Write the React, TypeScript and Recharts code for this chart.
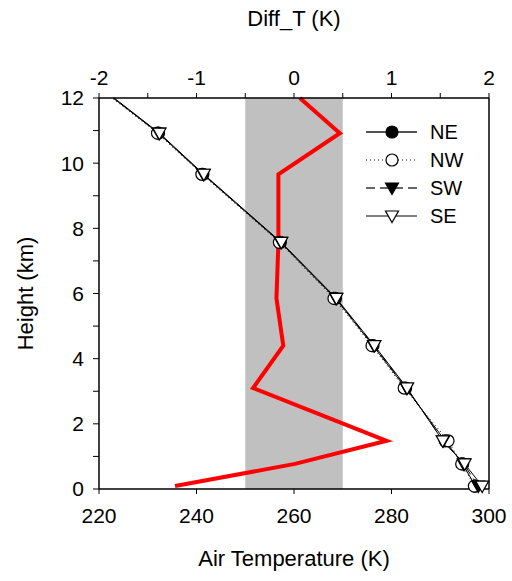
import React from 'react';
import { LineChart, Line, XAxis, YAxis, ReferenceArea, ReferenceLine } from 'recharts';

// heights (km) where the profiles were sampled
const heights = [0.09, 0.77, 1.48, 3.1, 4.4, 5.85, 7.57, 9.66, 10.92, 12];
// air temperature (K) per quadrant
const tempNE = [297.2, 294.6, 291.0, 282.9, 276.2, 268.5, 257.2, 241.3, 232.2, 222.9];
const tempNW = [297.0, 294.4, 291.6, 282.6, 276.0, 268.2, 257.0, 241.1, 232.0, 222.7];
const tempSW = [297.8, 294.8, 290.6, 283.1, 276.4, 268.6, 257.3, 241.4, 232.3, 223.0];
const tempSE = [298.6, 295.0, 290.5, 283.2, 276.5, 268.7, 257.4, 241.5, 232.4, 223.1];
// temperature difference (K), top axis
const diffT = [-1.22, 0.01, 0.95, -0.42, -0.11, -0.18, -0.16, -0.16, 0.47, 0.06];
// the last sample (top of the profile) has no symbol
const hasMarker = [true, true, true, true, true, true, true, true, true, false];

const tempTicks = [220, 240, 260, 280, 300];
const diffTicks = [-2, -1.5, -1, -0.5, 0, 0.5, 1, 1.5, 2];
const heightTicks = [0, 1, 2, 3, 4, 5, 6, 7, 8, 9, 10, 11, 12];

const rows = heights.map((h, i) => ({
    h,
    NE: tempNE[i],
    NW: tempNW[i],
    SW: tempSW[i],
    SE: tempSE[i],
    diff: diffT[i],
}));

type Shape = 'circle' | 'tri';

const series: { key: string; dash?: string; shape: Shape; fill: string; legendStroke: string; legendWidth: number }[] = [
    { key: 'NE', shape: 'circle', fill: '#000', legendStroke: '#555', legendWidth: 2 },
    { key: 'NW', dash: '1 3', shape: 'circle', fill: '#fff', legendStroke: '#000', legendWidth: 1 },
    { key: 'SW', dash: '9 5', shape: 'tri', fill: '#000', legendStroke: '#666', legendWidth: 2 },
    { key: 'SE', shape: 'tri', fill: '#fff', legendStroke: '#000', legendWidth: 1 },
];

const FONT = '"Liberation Sans", Arial, Helvetica, sans-serif';

function marker(shape: Shape, fill: string, cx: number, cy: number, key?: string | number) {
    if (shape === 'circle') {
        return <circle key={key} cx={cx} cy={cy} r={6} fill={fill} stroke="#000" strokeWidth={1.2} />;
    }
    const pts = `${cx - 6.5},${cy - 5} ${cx + 6.5},${cy - 5} ${cx},${cy + 6.5}`;
    return <polygon key={key} points={pts} fill={fill} stroke="#000" strokeWidth={1.2} />;
}

function makeDot(shape: Shape, fill: string) {
    return (props: any) => {
        const { cx, cy, index } = props;
        if (!hasMarker[index] || cx == null || cy == null) return <g key={`d${index}`} />;
        return marker(shape, fill, cx, cy, `d${index}`);
    };
}

const fmtEven = (v: number) => (v % 2 === 0 ? String(v) : '');
const fmtInt = (v: number) => (Number.isInteger(v) ? String(v) : '');

const tickStyle = { fill: '#000', fontSize: 21, fontFamily: FONT };
const axisLine = { stroke: '#000', strokeWidth: 1.5 };

function Legendbox() {
    return (
        <svg width={140} height={120} style={{ position: 'absolute', left: 360, top: 116 }}>
            {series.map((s, i) => {
                const y = 16 + i * 28;
                return (
                    <g key={s.key}>
                        <line x1={6} x2={57} y1={y} y2={y} stroke={s.legendStroke} strokeWidth={s.legendWidth} strokeDasharray={s.dash} />
                        {marker(s.shape, s.fill, 32, y)}
                        <text x={70} y={y + 7} fontSize={20} fontFamily={FONT} fill="#000">
                            {s.key}
                        </text>
                    </g>
                );
            })}
        </svg>
    );
}

export default function App() {
    return (
        <div style={{ position: 'absolute', left: 0, top: 0, width: 512, height: 581, background: '#fff' }}>
            <LineChart layout="vertical" width={512} height={581} data={rows} margin={{ top: 0, right: 23, bottom: 0, left: 0 }}>
                <XAxis
                    xAxisId="t"
                    type="number"
                    orientation="bottom"
                    domain={[220, 300]}
                    ticks={tempTicks}
                    height={92}
                    tick={tickStyle}
                    tickSize={5}
                    tickMargin={14}
                    axisLine={axisLine}
                    tickLine={{ stroke: '#000' }}
                    label={{
                        content: (p: any) => (
                            <text x={p.viewBox.x + p.viewBox.width / 2} y={p.viewBox.y + 77} textAnchor="middle" fontSize={22} fontFamily={FONT} fill="#000">
                                Air Temperature (K)
                            </text>
                        ),
                    }}
                />
                <XAxis
                    xAxisId="d"
                    type="number"
                    orientation="top"
                    domain={[-2, 2]}
                    ticks={diffTicks}
                    tickFormatter={fmtInt}
                    height={98}
                    tick={tickStyle}
                    tickSize={5}
                    tickMargin={8}
                    axisLine={axisLine}
                    tickLine={{ stroke: '#000' }}
                    label={{
                        content: (p: any) => (
                            <text x={p.viewBox.x + p.viewBox.width / 2} y={26} textAnchor="middle" fontSize={22} fontFamily={FONT} fill="#000">
                                Diff_T (K)
                            </text>
                        ),
                    }}
                />
                <YAxis
                    yAxisId="h"
                    type="number"
                    dataKey="h"
                    domain={[0, 12]}
                    reversed
                    ticks={heightTicks}
                    tickFormatter={fmtEven}
                    width={99}
                    tick={tickStyle}
                    tickSize={6}
                    tickMargin={9}
                    axisLine={axisLine}
                    tickLine={{ stroke: '#000' }}
                    label={{
                        content: (p: any) => {
                            const cy = p.viewBox.y + p.viewBox.height / 2;
                            return (
                                <text x={33} y={cy} transform={`rotate(-90 33 ${cy})`} textAnchor="middle" fontSize={22} fontFamily={FONT} fill="#000">
                                    Height (km)
                                </text>
                            );
                        },
                    }}
                />
                <ReferenceArea xAxisId="d" yAxisId="h" x1={-0.5} x2={0.5} y1={0} y2={12} fill="#c0c0c0" fillOpacity={1} stroke="none" />
                <ReferenceLine xAxisId="t" yAxisId="h" x={300} stroke="#000" strokeWidth={1.5} />
                <Line xAxisId="d" yAxisId="h" dataKey="diff" type="linear" stroke="#ff0000" strokeWidth={4} dot={false} isAnimationActive={false} />
                {series.map((s) => (
                    <Line
                        key={s.key}
                        xAxisId="t"
                        yAxisId="h"
                        dataKey={s.key}
                        type="linear"
                        stroke="#000"
                        strokeWidth={1}
                        strokeDasharray={s.dash}
                        dot={makeDot(s.shape, s.fill)}
                        activeDot={false}
                        isAnimationActive={false}
                    />
                ))}
            </LineChart>
            <Legendbox />
        </div>
    );
}
